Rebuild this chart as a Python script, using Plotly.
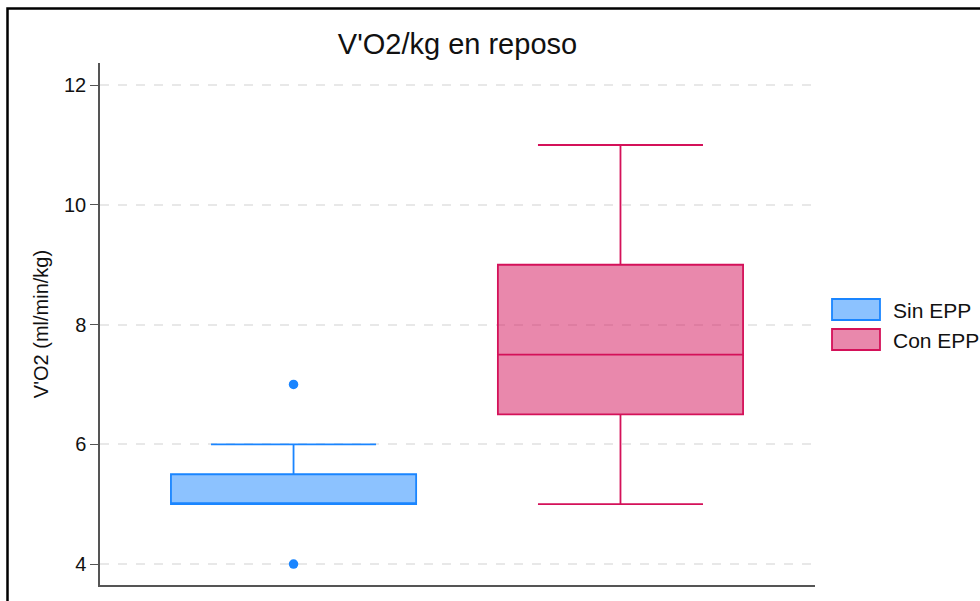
import plotly.graph_objects as go

groups = ["Sin EPP", "Con EPP"]
q1 = [5.0, 6.5]
median = [5.0, 7.5]
q3 = [5.5, 9.0]
lowerfence = [5.0, 5.0]
upperfence = [6.0, 11.0]
outliers = [[7.0, 4.0], []]
line_colors = ["#1a85ff", "#d41159"]
fill_colors = ["rgba(26,133,255,0.5)", "rgba(212,17,89,0.5)"]
y_ticks = [4, 6, 8, 10, 12]

fig = go.Figure()
for i, g in enumerate(groups):
    fig.add_trace(go.Box(
        name=g, x0=i, q1=[q1[i]], median=[median[i]], q3=[q3[i]],
        lowerfence=[lowerfence[i]], upperfence=[upperfence[i]],
        width=0.75, whiskerwidth=0.673,
        line=dict(color=line_colors[i], width=1.8),
        fillcolor=fill_colors[i], boxpoints=False, showlegend=False,
    ))
    if outliers[i]:
        fig.add_trace(go.Scatter(
            x=[i] * len(outliers[i]), y=outliers[i], mode="markers",
            marker=dict(color=line_colors[i], size=9.5), showlegend=False,
            hoverinfo="y",
        ))

# pixel -> paper helpers (plot area 100..815 x 63..585)
W, H = 715, 522
def px(xp):
    return (xp - 100) / W
def py(yp):
    return (585 - yp) / H

shapes = []
annotations = []
# manual legend (wide swatches like the reference)
for i, g in enumerate(groups):
    yc = 309.5 + i * 30
    shapes.append(dict(type="rect", xref="paper", yref="paper",
                       x0=px(832), x1=px(880), y0=py(yc + 10.5), y1=py(yc - 10.5),
                       line=dict(color=line_colors[i], width=1.8),
                       fillcolor=fill_colors[i]))
    annotations.append(dict(xref="paper", yref="paper", x=px(891), y=py(yc + 1),
                            text=g, showarrow=False, xanchor="left", yanchor="middle",
                            font=dict(size=21, color="#111")))

# outer frame
shapes.append(dict(type="rect", xref="paper", yref="paper",
                   x0=px(7.5), x1=px(1000), y0=py(620), y1=py(8.5),
                   line=dict(color="black", width=2.5), fillcolor="rgba(0,0,0,0)"))

fig.update_layout(
    width=980, height=601,
    margin=dict(l=100, r=165, t=63, b=16),
    paper_bgcolor="white", plot_bgcolor="white",
    font=dict(family="Liberation Sans, Arial, sans-serif", color="#111"),
    title=dict(text="V'O2/kg en reposo", x=0.5, xref="paper",
               y=1 - 44 / 601, yref="container", yanchor="middle",
               font=dict(size=29, color="#111")),
    boxmode="overlay",
    xaxis=dict(range=[-0.592, 1.595], showticklabels=False, ticks="",
               showgrid=False, zeroline=False, showline=True,
               linecolor="#555", linewidth=1.5),
    yaxis=dict(range=[3.65, 12.37], tickvals=y_ticks, ticks="outside",
               ticklen=8, tickcolor="#555", tickwidth=1.2,
               showline=True, linecolor="#555", linewidth=1.5,
               showgrid=True, gridcolor="#e8e8e8", gridwidth=1.5, griddash="dash",
               zeroline=False, tickfont=dict(size=20),
               title=dict(text="V'O2 (ml/min/kg)", font=dict(size=20), standoff=10)),
    shapes=shapes, annotations=annotations,
)

fig.write_html("out.html", config={"displayModeBar": False},
               post_script="document.body.style.margin='0px';")
